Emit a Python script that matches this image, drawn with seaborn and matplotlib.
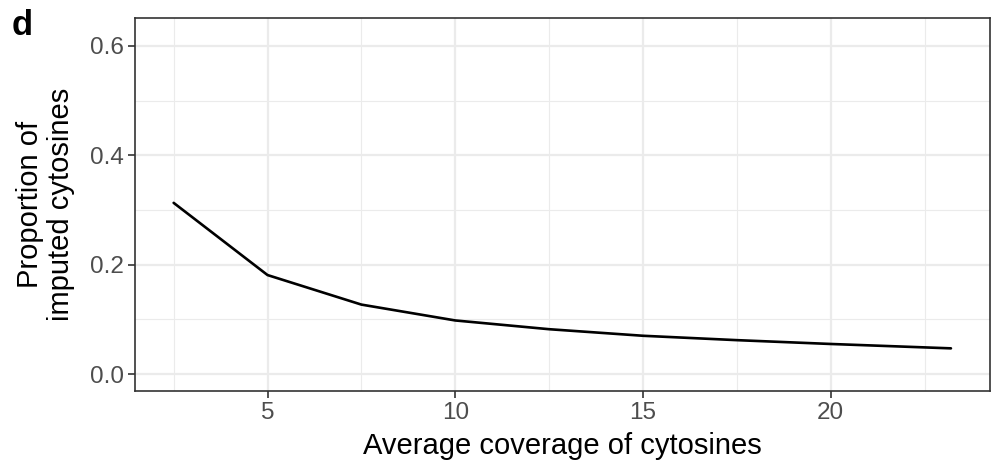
import matplotlib
matplotlib.use("Agg")
import matplotlib.pyplot as plt
import seaborn as sns
import pandas as pd
from matplotlib.ticker import MultipleLocator

coverage = [2.5, 5.0, 7.5, 10.0, 12.5, 15.0, 17.5, 20.0, 23.2]
proportion = [0.313, 0.181, 0.127, 0.098, 0.082, 0.070, 0.062, 0.055, 0.047]
xticks = [5, 10, 15, 20]
yticks = [0.0, 0.2, 0.4, 0.6]

df = pd.DataFrame({"coverage": coverage, "proportion": proportion})

sns.set_theme(style="white")
plt.rcParams['font.family'] = ['Liberation Sans', 'DejaVu Sans']

fig = plt.figure(figsize=(9.91, 4.67), dpi=100)
ax = fig.add_axes([0.1362, 0.1627, 0.8628, 0.7988])

sns.lineplot(data=df, x="coverage", y="proportion", ax=ax, color="black", linewidth=1.9)

ax.set_xlim(1.47, 24.24)
ax.set_ylim(-0.031, 0.651)
ax.set_xticks(xticks)
ax.set_yticks(yticks)
ax.set_xticklabels([str(v) for v in xticks])
ax.set_yticklabels([f"{v:.1f}" for v in yticks])
ax.xaxis.set_minor_locator(MultipleLocator(2.5))
ax.yaxis.set_minor_locator(MultipleLocator(0.1))
ax.grid(True, which="major", color="#EBEBEB", linewidth=1.6)
ax.grid(True, which="minor", color="#EBEBEB", linewidth=0.8)
ax.set_axisbelow(True)
for s in ax.spines.values():
    s.set_color("#333333")
    s.set_linewidth(1.2)
ax.tick_params(axis="both", which="major", length=5, width=1.2, color="#333333",
               labelsize=17.5, labelcolor="#4D4D4D", pad=3, direction="out",
               bottom=True, left=True)
ax.tick_params(axis="both", which="minor", length=0)
ax.set_xlabel("Average coverage of cytosines", fontsize=21, color="black", labelpad=6)
ax.set_ylabel("Proportion of\nimputed cytosines", fontsize=21, color="black", labelpad=11,
              linespacing=1.1)
fig.text(0.012, 0.98, "d", fontsize=25, fontweight="bold", va="top", ha="left", color="black")

fig.savefig("out.png", dpi=100)
